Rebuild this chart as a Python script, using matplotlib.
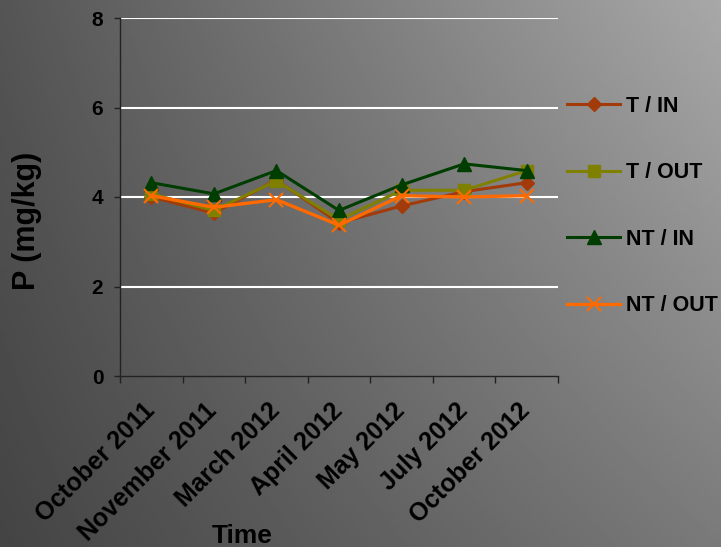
import matplotlib
matplotlib.use('Agg')
import matplotlib.pyplot as plt
import matplotlib.transforms as mtransforms
import numpy as np

# data
months = ['October 2011', 'November 2011', 'March 2012', 'April 2012',
          'May 2012', 'July 2012', 'October 2012']
t_in = [4.00, 3.64, 4.38, 3.42, 3.80, 4.12, 4.32]
t_out = [4.07, 3.70, 4.36, 3.49, 4.15, 4.15, 4.59]
nt_in = [4.32, 4.07, 4.59, 3.70, 4.27, 4.74, 4.59]
nt_out = [4.03, 3.77, 3.94, 3.37, 4.03, 4.00, 4.03]

plt.rcParams['font.family'] = ['Liberation Sans', 'DejaVu Sans']
plt.rcParams['font.weight'] = 'bold'


def main():
    fig = plt.figure(figsize=(7.21, 5.47), dpi=100)

    # gray gradient background, lighter toward the top right
    bg = fig.add_axes([0, 0, 1, 1], zorder=-10)
    xx, yy = np.meshgrid(np.linspace(0, 1, 200), np.linspace(0, 1, 200))
    tl, tr, bl, br = 85, 168, 68, 122
    top = tl + (tr - tl) * xx
    bot = bl + (br - bl) * xx
    grad = (top * (1 - yy) + bot * yy) / 255.0
    bg.imshow(grad, cmap='gray', vmin=0, vmax=1, aspect='auto',
              extent=[0, 1, 0, 1], origin='upper', interpolation='bilinear')
    bg.axis('off')

    ax = fig.add_axes([120 / 721, 1 - 376 / 547, 438 / 721, 358 / 547])
    ax.patch.set_alpha(0)

    x = np.arange(len(months))
    ax.plot(x, t_in, color='#A33A0A', lw=2.2, marker='D', ms=7.5, label='T / IN')
    ax.plot(x, t_out, color='#808000', lw=2.2, marker='s', ms=9, label='T / OUT')
    ax.plot(x, nt_in, color='#003D00', lw=2.2, marker='^', ms=9.5, label='NT / IN')
    ax.plot(x, nt_out, color='#FF6A00', lw=2.4, marker='x', ms=10, mew=1.5,
            label='NT / OUT')

    ax.set_ylim(0, 8)
    ax.set_yticks([0, 2, 4, 6, 8])
    for yv in [2, 4, 6, 8]:
        ax.axhline(yv, color='white', lw=1.5, zorder=0)
    ax.set_xlim(-0.5, len(months) - 0.5)
    ax.set_xticks(x)
    ax.set_xticks(np.arange(-0.5, len(months)), minor=True)
    ax.set_xticklabels(months, rotation=45, ha='right', rotation_mode='anchor',
                       fontsize=18, fontweight='bold')
    ax.tick_params(axis='x', which='major', length=0, pad=16)
    ax.tick_params(axis='x', which='minor', length=5, width=1, color='#222222')
    ax.tick_params(axis='y', length=4, width=1, color='#222222', labelsize=15, pad=8)
    # nudge the slanted labels a little to the left
    shift = mtransforms.ScaledTranslation(-9 / 100, 0, fig.dpi_scale_trans)
    for lab in ax.get_xticklabels():
        lab.set_transform(lab.get_transform() + shift)

    for s in ['top', 'right']:
        ax.spines[s].set_visible(False)
    for s in ['left', 'bottom']:
        ax.spines[s].set_color('#222222')
        ax.spines[s].set_linewidth(1)

    ax.set_ylabel('P (mg/kg)', fontsize=22, fontweight='bold')
    ax.yaxis.set_label_coords(-0.179, 0.433)
    ax.set_xlabel('Time', fontsize=19, fontweight='bold')
    ax.xaxis.set_label_coords(0.279, -0.414)

    fig.legend(loc='center left', bbox_to_anchor=(567 / 721, 1 - 206 / 547),
               frameon=False, labelspacing=2.12, handlelength=2.47,
               handletextpad=0.25, borderpad=0, borderaxespad=0,
               prop={'weight': 'bold', 'size': 15.5})

    fig.savefig('out.png', dpi=100)


if __name__ == "__main__":
    main()
